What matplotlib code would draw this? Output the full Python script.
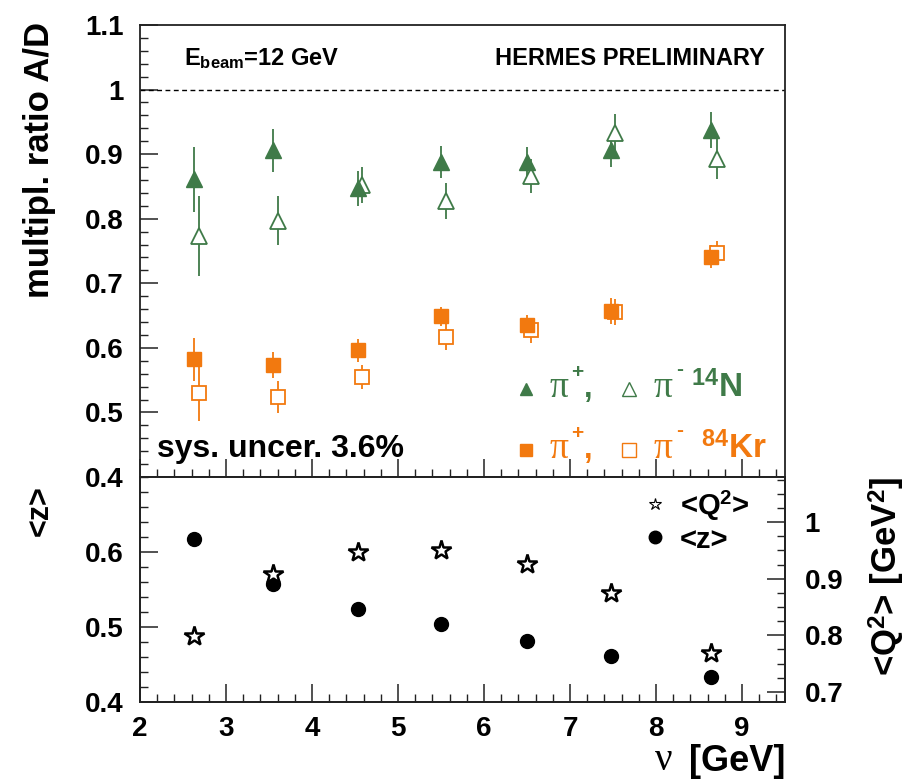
import matplotlib
matplotlib.use("Agg")
import matplotlib.pyplot as plt
from matplotlib.ticker import MultipleLocator, FixedLocator, FuncFormatter

# ---------------- data ----------------
nu_pip = [2.63, 3.55, 4.53, 5.50, 6.50, 7.48, 8.64]
nu_pim = [2.69, 3.61, 4.58, 5.56, 6.55, 7.52, 8.71]

N_pip = [0.861, 0.906, 0.847, 0.888, 0.888, 0.906, 0.938]
N_pip_err = [0.050, 0.033, 0.027, 0.025, 0.023, 0.026, 0.028]
N_pim = [0.773, 0.797, 0.852, 0.828, 0.866, 0.932, 0.893]
N_pim_err = [0.062, 0.038, 0.028, 0.028, 0.026, 0.030, 0.031]

Kr_pip = [0.582, 0.574, 0.596, 0.649, 0.635, 0.657, 0.741]
Kr_pip_err = [0.033, 0.020, 0.018, 0.015, 0.016, 0.020, 0.018]
Kr_pim = [0.530, 0.524, 0.555, 0.617, 0.627, 0.655, 0.747]
Kr_pim_err = [0.044, 0.025, 0.019, 0.020, 0.019, 0.020, 0.019]

mean_z = [0.617, 0.558, 0.524, 0.504, 0.481, 0.462, 0.433]
mean_Q2 = [0.798, 0.908, 0.947, 0.951, 0.926, 0.875, 0.769]

x_ticks = [2, 3, 4, 5, 6, 7, 8, 9]

GREEN = "#3f7a48"
ORANGE = "#f2790f"
FONT = "Liberation Sans"
SERIF = ["Liberation Serif", "DejaVu Serif"]

plt.rcParams["font.family"] = [FONT, "DejaVu Sans"]
plt.rcParams["font.weight"] = "bold"
plt.rcParams["mathtext.fontset"] = "custom"
plt.rcParams["mathtext.rm"] = "Liberation Sans:bold"
plt.rcParams["mathtext.it"] = "Liberation Serif:weight=normal"
plt.rcParams["mathtext.bf"] = "Liberation Sans:bold"

W, H = 911, 781
fig = plt.figure(figsize=(W / 100, H / 100), dpi=100)

def fx(px):
    return px / W

def fy(py):
    return 1 - py / H

L, R = 140, 785
T1, B1, B2 = 25, 477, 702
ax1 = fig.add_axes([fx(L), fy(B1), fx(R) - fx(L), fy(T1) - fy(B1)])
ax2 = fig.add_axes([fx(L), fy(B2), fx(R) - fx(L), fy(B1) - fy(B2)])
ax2r = ax2.twinx()

TICKFS = 20
fmt_g = FuncFormatter(lambda v, p: ("%g" % round(v, 3)))

for ax in (ax1, ax2, ax2r):
    for sp in ax.spines.values():
        sp.set_linewidth(1.3)
        sp.set_color("#222222")

# ---- top panel ----
ax1.set_xlim(2, 9.5)
ax1.set_ylim(0.4, 1.1)
ax1.xaxis.set_major_locator(MultipleLocator(1))
ax1.xaxis.set_minor_locator(MultipleLocator(0.2))
ax1.yaxis.set_major_locator(MultipleLocator(0.1))
ax1.yaxis.set_minor_locator(MultipleLocator(0.02))
ax1.yaxis.set_major_formatter(fmt_g)
ax1.tick_params(axis="both", which="both", direction="in", top=False, right=False,
                color="#222222")
ax1.tick_params(axis="x", which="major", length=13, width=1.1, labelbottom=False)
ax1.tick_params(axis="x", which="minor", length=6, width=1.0)
ax1.tick_params(axis="y", which="major", length=13, width=1.1, labelsize=TICKFS, pad=12)
ax1.tick_params(axis="y", which="minor", length=6, width=1.0)
for lab in ax1.get_yticklabels():
    lab.set_fontweight("bold")

ax1.axhline(1.0, color="black", lw=1.0, ls=(0, (3.5, 2.5)))

ekw = dict(ls="none", elinewidth=1.3, capsize=0)
ax1.errorbar(nu_pim, N_pim, yerr=N_pim_err, marker="^", ms=11, mfc="white",
             mec=GREEN, mew=1.3, color=GREEN, **ekw)
ax1.errorbar(nu_pip, N_pip, yerr=N_pip_err, marker="^", ms=11, mfc=GREEN,
             mec=GREEN, color=GREEN, **ekw)
ax1.errorbar(nu_pim, Kr_pim, yerr=Kr_pim_err, marker="s", ms=10, mfc="white",
             mec=ORANGE, mew=1.3, color=ORANGE, **ekw)
ax1.errorbar(nu_pip, Kr_pip, yerr=Kr_pip_err, marker="s", ms=10, mfc=ORANGE,
             mec=ORANGE, color=ORANGE, **ekw)

# texts in top panel (axes fraction via pixel helper)
def a1(px, py):
    return ((px - L) / (R - L), (B1 - py) / (B1 - T1))

ax1.text(*a1(184, 66), r"E$_{\mathrm{beam}}$=12 GeV", transform=ax1.transAxes,
         fontsize=17, fontweight="bold", ha="left", va="baseline")
ax1.text(*a1(765, 65), "HERMES PRELIMINARY", transform=ax1.transAxes,
         fontsize=17, fontweight="bold", ha="right", va="baseline")
ax1.text(*a1(157, 457), "sys. uncer. 3.6%", transform=ax1.transAxes,
         fontsize=23, fontweight="bold", ha="left", va="baseline")

# legend top panel
rows = [(397, GREEN, "^", r"$^{\mathrm{14}}$N", 742), (458, ORANGE, "s", r"$^{\mathrm{84}}$Kr", 767)]
for base, col, mk, label, rx in rows:
    cx, cy = a1(526, base - 8)
    ax1.plot([cx], [cy], marker=mk, ms=9, color=col, transform=ax1.transAxes,
             clip_on=False)
    cx, cy = a1(629, base - 8)
    ax1.plot([cx], [cy], marker=mk, ms=9.5, mfc="white", mec=col, mew=1.0,
             transform=ax1.transAxes, clip_on=False)
    ax1.text(*a1(549, base), "\u03c0", transform=ax1.transAxes, fontsize=27,
             family=SERIF, fontweight="normal", color=col, ha="left", va="baseline")
    ax1.text(*a1(571, base - 19), "+", transform=ax1.transAxes, fontsize=15,
             fontweight="bold", color=col, ha="left", va="baseline")
    ax1.text(*a1(584, base), ",", transform=ax1.transAxes, fontsize=22,
             fontweight="bold", color=col, ha="left", va="baseline")
    ax1.text(*a1(654, base), "\u03c0", transform=ax1.transAxes, fontsize=27,
             family=SERIF, fontweight="normal", color=col, ha="left", va="baseline")
    ax1.text(*a1(676, base - 22), "-", transform=ax1.transAxes, fontsize=15,
             fontweight="bold", color=col, ha="left", va="baseline")
    ax1.text(*a1(rx, base), label, transform=ax1.transAxes,
             fontsize=24, fontweight="bold", color=col, ha="right", va="baseline")

# ---- bottom panel ----
ax2.set_xlim(2, 9.5)
ax2.set_ylim(0.4, 0.7)
ax2.xaxis.set_major_locator(FixedLocator(x_ticks))
ax2.xaxis.set_minor_locator(MultipleLocator(0.2))
ax2.yaxis.set_major_locator(FixedLocator([0.4, 0.5, 0.6]))
ax2.yaxis.set_minor_locator(MultipleLocator(0.02))
ax2.yaxis.set_major_formatter(fmt_g)
ax2.tick_params(axis="both", which="both", direction="in", top=False, right=False,
                color="#222222")
ax2.tick_params(axis="x", which="major", length=13, width=1.1, labelsize=TICKFS, pad=10)
ax2.tick_params(axis="x", which="minor", length=6, width=1.0)
ax2.tick_params(axis="y", which="major", length=13, width=1.1, labelsize=TICKFS, pad=12)
ax2.tick_params(axis="y", which="minor", length=6, width=1.0)

ax2r.set_ylim(0.682, 1.08)
ax2r.yaxis.set_major_locator(FixedLocator([0.7, 0.8, 0.9, 1.0]))
ax2r.yaxis.set_minor_locator(MultipleLocator(0.025))
ax2r.yaxis.set_major_formatter(fmt_g)
ax2r.tick_params(axis="y", which="both", direction="in", color="#222222")
ax2r.tick_params(axis="y", which="major", length=13, width=1.1, labelsize=TICKFS, pad=14)
ax2r.tick_params(axis="y", which="minor", length=6, width=1.0)

for ax in (ax2, ax2r):
    for lab in ax.get_xticklabels() + ax.get_yticklabels():
        lab.set_fontweight("bold")

ax2.plot(nu_pip, mean_z, ls="none", marker="o", ms=10, color="black")
ax2r.plot(nu_pip, mean_Q2, ls="none", marker="*", ms=15, mfc="white", mec="black",
          mew=1.8)

# bottom legend
def a2(px, py):
    return ((px - L) / (R - L), (B2 - py) / (B2 - B1))

ax2.plot(*a2(655, 504), marker="*", ms=9, mfc="white", mec="black", mew=0.8,
         transform=ax2.transAxes, clip_on=False)
ax2.plot(*a2(655, 537), marker="o", ms=9, color="black", transform=ax2.transAxes,
         clip_on=False)
ax2.text(*a2(680, 515), r"<Q$^{2}$>", transform=ax2.transAxes, fontsize=21,
         fontweight="bold", ha="left", va="baseline")
ax2.text(*a2(680, 548), "<z>", transform=ax2.transAxes, fontsize=21,
         fontweight="bold", ha="left", va="baseline")

# axis titles
fig.text(fx(40), fy(22), "multipl. ratio A/D", rotation=90, ha="center", va="top",
         fontsize=25, fontweight="bold")
fig.text(fx(40), fy(485), "<z>", rotation=90, ha="center", va="top",
         fontsize=22, fontweight="bold")
fig.text(fx(887), fy(477), r"<Q$^{2}$> [GeV$^{2}$]", rotation=90, ha="center",
         va="top", fontsize=25, fontweight="bold")
fig.text(fx(785), fy(779), "[GeV]", ha="right", va="bottom", fontsize=26,
         fontweight="bold")
fig.text(fx(672), fy(779), "\u03bd", ha="right", va="bottom", fontsize=28,
         family=SERIF, fontweight="normal")

fig.savefig("out.png", dpi=100)
